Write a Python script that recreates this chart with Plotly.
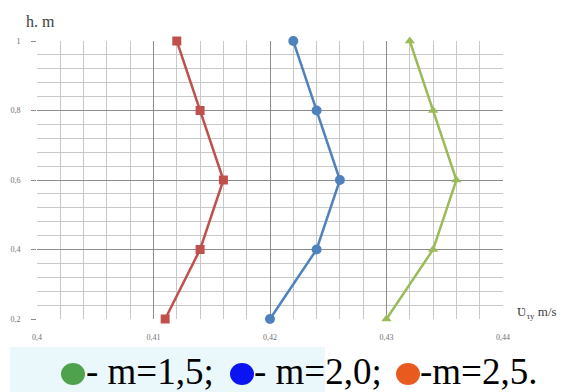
import plotly.graph_objects as go

# Data
heights = [0.2, 0.4, 0.6, 0.8, 1.0]
u_m25 = [0.411, 0.414, 0.416, 0.414, 0.412]   # red squares
u_m20 = [0.420, 0.424, 0.426, 0.424, 0.422]   # blue circles
u_m15 = [0.430, 0.434, 0.436, 0.434, 0.432]   # green triangles

x_tickvals = [0.40, 0.41, 0.42, 0.43, 0.44]
x_ticktext = ["0,4", "0,41", "0,42", "0,43", "0,44"]
y_tickvals = [0.2, 0.4, 0.6, 0.8, 1.0]
y_ticktext = ["0,2", "0,4", "0,6", "0,8", "1"]

legend_labels = ["- m=1,5;", "- m=2,0;", "-m=2,5."]
legend_colors = ["#4ea24e", "#0a14f0", "#e85a1e"]

# page body has an 8px default margin; lay out in window pixels and compensate
OFF = 8
WIN_W, WIN_H = 574, 392
W, H = WIN_W - OFF, WIN_H - OFF
# plot area in window pixels
PX0, PX1, PY0, PY1 = 37, 503, 41, 319
L, T = PX0 - OFF, PY0 - OFF
R, B = WIN_W - PX1, WIN_H - PY1
PW, PH = PX1 - PX0, PY1 - PY0


def px(x):
    return (x - PX0) / PW


def py(y):
    return (PY1 - y) / PH


fig = go.Figure()
series = [
    (u_m25, "#c0504d", "square", 9),
    (u_m20, "#4f81bd", "circle", 10),
    (u_m15, "#9bbb59", "triangle-up", 9),
]
for xs, col, sym, sz in series:
    fig.add_trace(go.Scatter(
        x=xs, y=heights, mode="lines+markers",
        line=dict(color=col, width=2.5),
        marker=dict(color=col, symbol=sym, size=sz),
        cliponaxis=False, showlegend=False,
    ))

tickfont = dict(family="Liberation Serif", size=8, color="#707070")
fig.update_xaxes(
    range=[0.40, 0.44], tickvals=x_tickvals, ticktext=x_ticktext,
    showgrid=True, gridcolor="#8c8c8c", gridwidth=1,
    minor=dict(dtick=0.002, tick0=0.4, showgrid=True, gridcolor="#c8c8c8", gridwidth=1),
    ticks="", tickfont=tickfont, zeroline=False, showline=False,
    ticklabelstandoff=12, automargin=False,
)
fig.update_yaxes(
    range=[0.2, 1.0], tickvals=y_tickvals, ticktext=y_ticktext,
    showgrid=True, gridcolor="#8c8c8c", gridwidth=1,
    minor=dict(dtick=0.04, tick0=0.2, showgrid=True, gridcolor="#c8c8c8", gridwidth=1),
    ticks="outside", ticklen=5, tickcolor="#8c8c8c", tickfont=tickfont,
    zeroline=False, showline=False, ticklabelstandoff=9, automargin=False,
)

shapes = [
    dict(type="rect", xref="paper", yref="paper", x0=px(10), x1=px(325),
         y0=py(392), y1=py(347), fillcolor="#eaf8fc", line=dict(width=0), layer="below"),
]
centers = [73, 242, 408]
for cx, col in zip(centers, legend_colors):
    shapes.append(dict(type="circle", xref="paper", yref="paper",
                       xsizemode="pixel", ysizemode="pixel",
                       xanchor=px(cx), yanchor=py(374),
                       x0=-12, x1=12, y0=-11, y1=11,
                       fillcolor=col, line=dict(width=0)))

annotations = [
    dict(text="h. m", xref="paper", yref="paper", x=px(24), y=py(21),
         xanchor="left", yanchor="middle", showarrow=False,
         font=dict(family="Liberation Serif", size=16, color="#404040")),
    dict(text="Ʋ<sub>τy</sub> m/s", xref="paper", yref="paper", x=px(515), y=py(312),
         xanchor="left", yanchor="middle", showarrow=False,
         font=dict(family="Liberation Serif", size=13, color="#404040")),
]
text_lefts = [84, 252, 418]
for tx, lab in zip(text_lefts, legend_labels):
    annotations.append(dict(text=lab, xref="paper", yref="paper", x=px(tx), y=py(371),
                            xanchor="left", yanchor="middle", showarrow=False,
                            font=dict(family="Liberation Serif", size=37, color="#000000")))

fig.update_layout(
    width=W, height=H, margin=dict(l=L, r=R, t=T, b=B, autoexpand=False),
    paper_bgcolor="white", plot_bgcolor="white",
    shapes=shapes, annotations=annotations, showlegend=False,
)

fig.write_html("out.html")
